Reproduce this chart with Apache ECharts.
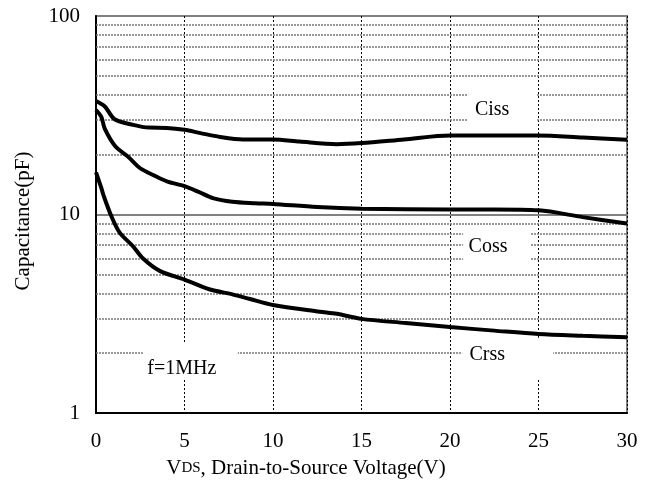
<!DOCTYPE html>
<html><head><meta charset="utf-8">
<script src="https://cdn.jsdelivr.net/npm/echarts@6/dist/echarts.min.js"></script>
<style>html,body{margin:0;padding:0;background:#fff}#c{width:653px;height:486px}</style>
</head><body><div id="c"></div>
<script>
// ---- data ----
const xTicks = [0, 5, 10, 15, 20, 25, 30];
const yTicks = [1, 10, 100];
const cissV = [0, 0.5, 1.05, 2.1, 3, 4, 5, 5.9, 7, 8.3, 10, 11.5, 13.6, 15, 17.4, 20, 22.5, 25, 27.5, 30];
const cissC = [37.3, 35, 30.2, 28.3, 27.4, 27.3, 26.7, 25.7, 24.6, 23.9, 23.9, 23.3, 22.6, 22.9, 23.9, 25.0, 25.0, 25.0, 24.4, 23.8];
const cossV = [0, 0.3, 0.5, 1.1, 1.8, 2.5, 3.3, 4, 5, 5.8, 6.6, 7.7, 9, 10, 12.5, 15, 20, 22.5, 25, 27.5, 30];
const cossC = [33.6, 31, 27, 22, 19.6, 17.1, 15.7, 14.7, 13.9, 13, 12.1, 11.6, 11.4, 11.3, 10.9, 10.7, 10.6, 10.6, 10.5, 9.7, 9.0];
const crssV = [0, 0.3, 0.45, 0.87, 1.34, 2.1, 2.66, 3.6, 5, 6.4, 7.75, 8.7, 10, 12.65, 13.6, 15, 17.5, 20, 22.5, 25, 27.5, 30];
const crssC = [16.3, 13.6, 12.3, 9.8, 8.1, 6.9, 6.0, 5.2, 4.7, 4.2, 3.95, 3.75, 3.5, 3.24, 3.16, 2.98, 2.84, 2.71, 2.6, 2.5, 2.45, 2.41];
const minorGrid = [2, 3, 4, 5, 6, 7, 8, 9, 20, 30, 40, 50, 60, 70, 80, 90];
const noteTexts = ['Ciss', 'Coss', 'Crss', 'f=1MHz'];
const noteV = [22.38, 22.15, 22.1, 4.85];
const noteC = [33.6, 6.86, 1.965, 1.67];
// ---- layout of note boxes (pixel offsets from text centre) ----
const noteBox = [[-24, 45, -30, 16], [-25, 42, -18, 22], [-25, 66, -17, 25], [-39, 56, -26, 11]];

const FONT = '"Liberation Serif", "Times New Roman", serif';
const pairs = (xs, ys) => xs.map((x, i) => [x, ys[i]]);
const chart = echarts.init(document.getElementById('c'), null, {renderer: 'canvas'});
const lineSeries = (name, xs, ys) => ({
  name, type: 'line', data: pairs(xs, ys), showSymbol: false, symbol: 'none',
  smooth: 0.3, z: 10, lineStyle: {color: '#000', width: 4}, silent: true
});
chart.setOption({
  animation: false,
  backgroundColor: '#fff',
  grid: {left: 96, right: 26, top: 16, bottom: 73, show: true, borderColor: '#808080', borderWidth: 2, backgroundColor: 'transparent'},
  xAxis: {
    type: 'value', min: xTicks[0], max: xTicks[xTicks.length - 1], interval: 5,
    axisLine: {show: true, lineStyle: {color: '#000', width: 2}},
    axisTick: {show: false},
    axisLabel: {fontFamily: FONT, fontSize: 21, color: '#000', margin: 18,
      formatter: v => xTicks.includes(v) ? String(v) : ''},
    splitLine: {show: true, lineStyle: {color: '#000', width: 1, type: [2, 2]}},
    name: '{a|V}{b|DS}{a|, Drain-to-Source Voltage(V)}',
    nameLocation: 'middle', nameGap: 45,
    nameTextStyle: {fontFamily: FONT, fontSize: 21, color: '#000', padding: [0, 111, 0, 0],
      rich: {a: {fontFamily: FONT, fontSize: 21, color: '#000'}, b: {fontFamily: FONT, fontSize: 15, color: '#000'}}}
  },
  yAxis: {
    type: 'log', logBase: 10, min: yTicks[0], max: yTicks[yTicks.length - 1],
    axisLine: {show: true, lineStyle: {color: '#000', width: 2}},
    axisTick: {show: false},
    axisLabel: {fontFamily: FONT, fontSize: 21, color: '#000', margin: 16},
    splitLine: {show: true, lineStyle: {color: '#808080', width: 2}},
    name: 'Capacitance(pF)', nameLocation: 'middle', nameGap: 62,
    nameTextStyle: {fontFamily: FONT, fontSize: 21, color: '#000', padding: [0, 13, 0, 0]}
  },
  series: [
    {type: 'line', data: [], z: 1, markLine: {
      silent: true, symbol: ['none', 'none'], z: 5, label: {show: false}, animation: false,
      lineStyle: {color: '#777', width: 1.5, type: [2, 1]},
      emphasis: {disabled: true},
      data: minorGrid.map(v => ({yAxis: v}))
    }},
    lineSeries('Ciss', cissV, cissC),
    lineSeries('Coss', cossV, cossC),
    lineSeries('Crss', crssV, crssC)
  ]
});
const graphics = [];
noteTexts.forEach((t, i) => {
  const p = chart.convertToPixel({gridIndex: 0}, [noteV[i], noteC[i]]);
  const b = noteBox[i];
  graphics.push({type: 'rect', z: 7, silent: true,
    shape: {x: p[0] + b[0], y: p[1] + b[2], width: b[1] - b[0], height: b[3] - b[2]},
    style: {fill: '#fff'}});
  graphics.push({type: 'text', z: 8, silent: true, x: p[0], y: p[1],
    style: {text: t, font: '20px ' + FONT, fill: '#000', align: 'center', verticalAlign: 'middle'}});
});
chart.setOption({graphic: graphics});
</script>
</body></html>
